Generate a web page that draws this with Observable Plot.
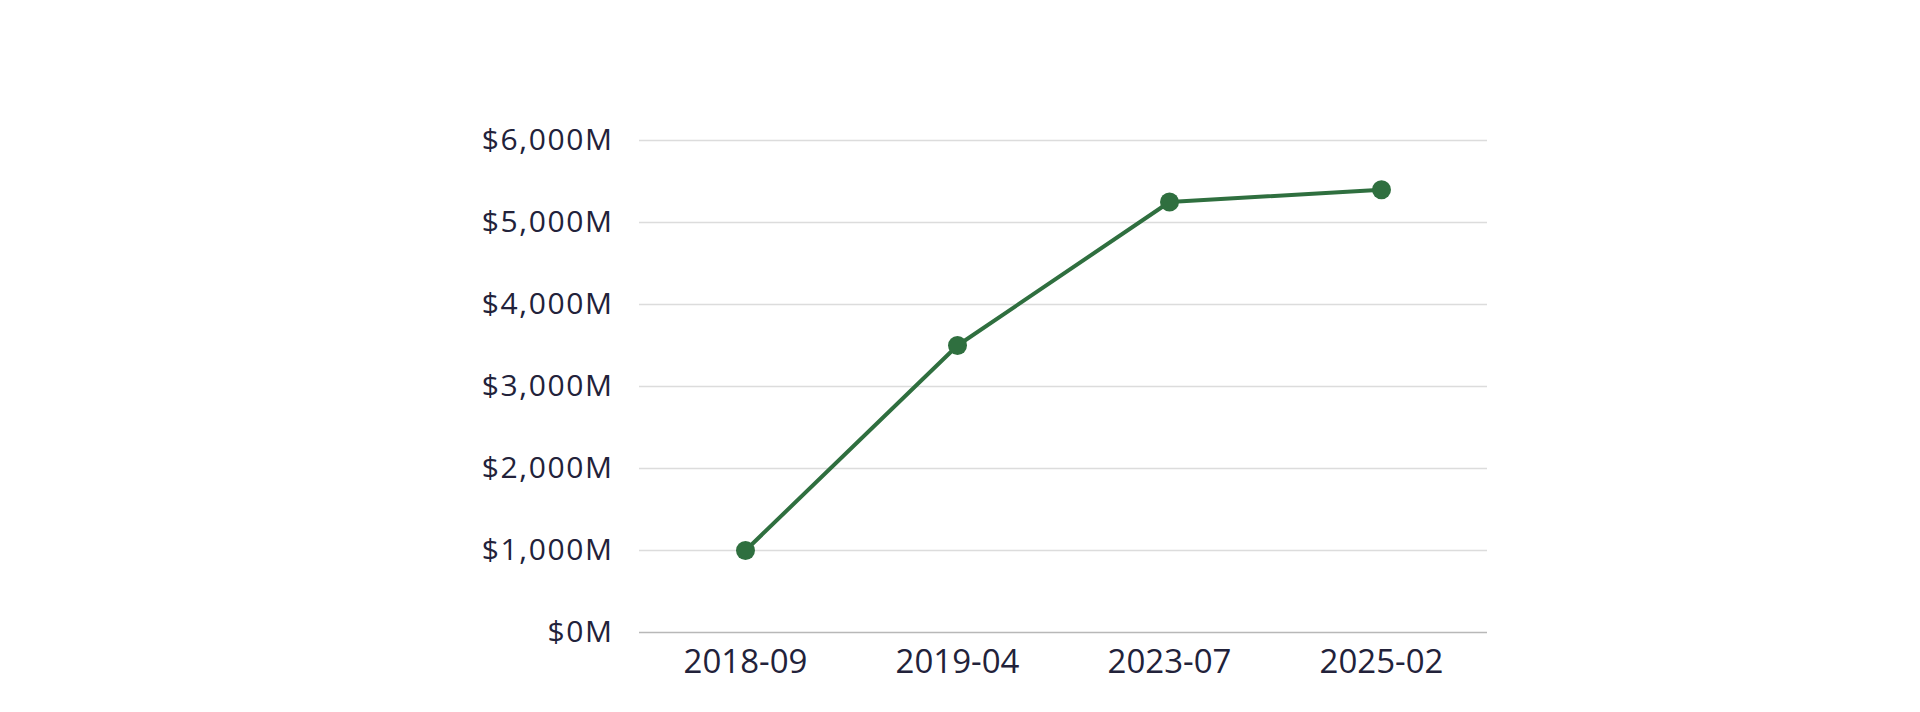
<!DOCTYPE html>
<html>
<head>
<meta charset="utf-8">
<script src="https://cdn.jsdelivr.net/npm/d3@7"></script>
<script src="https://cdn.jsdelivr.net/npm/@observablehq/plot@0.6"></script>
<style>
  html, body { margin: 0; padding: 0; background: #fff; }
  #chart svg { display: block; }
</style>
</head>
<body>
<div id="chart"></div>
<script>
const dates = ["2018-09", "2019-04", "2023-07", "2025-02"];
const values = [1000, 3500, 5250, 5400];
const yTicks = [0, 1000, 2000, 3000, 4000, 5000, 6000];

const data = dates.map((d, i) => ({date: d, value: values[i]}));
const green = "#2f6f3f";
const ink = "#22223a";

const chart = Plot.plot({
  width: 1920,
  height: 712,
  marginLeft: 639,
  marginRight: 433,
  marginTop: 140,
  marginBottom: 80,
  style: {fontFamily: "'Open Sans', sans-serif", background: "#fff", color: ink},
  x: {type: "point", domain: dates, padding: 0.5},
  y: {domain: [0, 6000]},
  marks: [
    Plot.ruleY(yTicks.filter(d => d > 0), {stroke: "#dcdcdc", strokeWidth: 1.5}),
    Plot.ruleY([0], {stroke: "#b8b8b8", strokeWidth: 1.5}),
    Plot.axisY(yTicks, {
      tickSize: 0, tickPadding: 26, fontSize: 30, fontWeight: 500, fill: ink,
      tickFormat: d => "$" + d3.format(",")(d) + "M", label: null
    }),
    Plot.axisX({
      tickSize: 0, tickPadding: 17, fontSize: 33, fontWeight: 500, fill: ink, label: null
    }),
    Plot.line(data, {x: "date", y: "value", stroke: green, strokeWidth: 4}),
    Plot.dot(data, {x: "date", y: "value", r: 9.5, fill: green, stroke: "none"})
  ]
});
document.getElementById("chart").append(chart);
// widen y labels slightly to match reference glyph widths
chart.querySelectorAll("[aria-label='y-axis tick label'] text").forEach(t => t.setAttribute("letter-spacing", "1.6"));
</script>
</body>
</html>
